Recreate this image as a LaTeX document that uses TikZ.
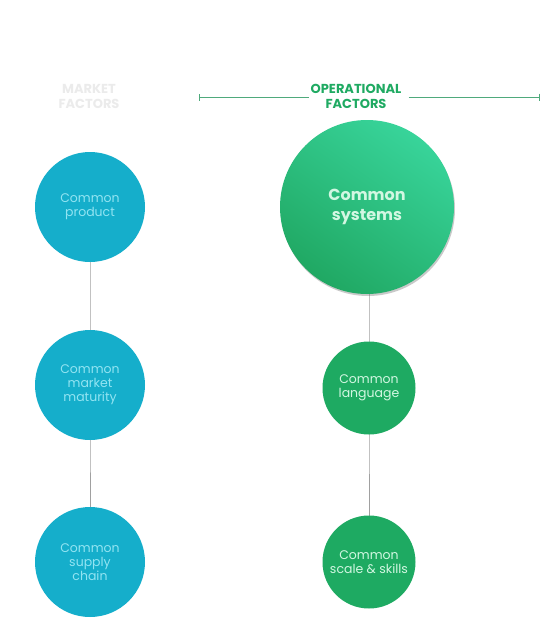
\documentclass[tikz,border=0pt]{standalone}
\usepackage{fontspec}
\setmainfont{Poppins}
\usetikzlibrary{shadows,arrows.meta}
\definecolor{teal}{HTML}{15AECB}
\definecolor{tealtext}{HTML}{92E4F2}
\definecolor{grn}{HTML}{1EAA62}
\definecolor{grntext}{HTML}{D2F7E2}
\definecolor{grnhead}{HTML}{1FAA62}
\definecolor{hline}{HTML}{4FAA7C}
\definecolor{conn}{HTML}{A0A0A0}
\definecolor{mkt}{HTML}{EBEBEB}
\definecolor{bigtop}{HTML}{38D49A}
\definecolor{bigbot}{HTML}{20A863}
\tikzset{
  mcircle/.style={circle, fill=teal, minimum size=110pt, inner sep=0pt, align=center,
    text=tealtext, font=\fontsize{12.5}{14}\selectfont},
  ocircle/.style={circle, fill=grn, minimum size=93pt, inner sep=0pt, align=center,
    text=grntext, font=\fontsize{12.5}{14}\selectfont},
  bigcircle/.style={circle, minimum size=174pt, inner sep=0pt, align=center,
    top color=bigtop, bottom color=bigbot, shading angle=-35,
    drop shadow={shadow xshift=1pt, shadow yshift=-2pt, opacity=0.35, fill=black!60},
    text=grntext, font=\bfseries\fontsize{16}{20}\selectfont},
  head/.style={align=center, inner sep=0pt, font=\bfseries\fontsize{13}{15}\selectfont},
  connector/.style={draw=conn, line width=0.9pt},
  headline/.style={draw=hline, line width=1pt},
}
\begin{document}
\begin{tikzpicture}[x=1pt,y=-1pt]
\useasboundingbox[fill=white] (0,0) rectangle (541,619);
% headers
\node[head, text=mkt] (mh) at (89,96) {MARKET\\FACTORS};
\node[head, text=grnhead] (oh) at (356,96) {OPERATIONAL\\FACTORS};
\coordinate (hl) at (199,97);
\coordinate (hr) at (540,97);
\coordinate (gl) at ([xshift=-1pt]oh.west |- hl);
\coordinate (gr) at ([xshift=7pt]oh.east |- hr);
\draw[headline, {Bar[width=7pt]}-] (hl) -- (gl);
\draw[headline, -{Bar[width=7pt]}] (gr) -- (hr);
% connectors
\coordinate (c1) at (90,207);
\coordinate (c2) at (90,385);
\coordinate (c3) at (90,562);
\coordinate (d1) at (369,207);
\coordinate (d2) at (369,388);
\coordinate (d3) at (369,562);
\draw[connector] (c1) -- (c2) -- (c3);
\draw[connector] (d1) -- (d2) -- (d3);
% market circles
\node[mcircle] (m1) at (c1) {Common\\product};
\node[mcircle] (m2) at (c2) {Common\\market\\maturity};
\node[mcircle] (m3) at (c3) {Common\\supply\\chain};
% operational circles
\node[bigcircle] (o1) at (367,207) {Common\\systems};
\node[ocircle] (o2) at (d2) {Common\\language};
\node[ocircle] (o3) at (d3) {Common\\scale \& skills};
\end{tikzpicture}
\end{document}
